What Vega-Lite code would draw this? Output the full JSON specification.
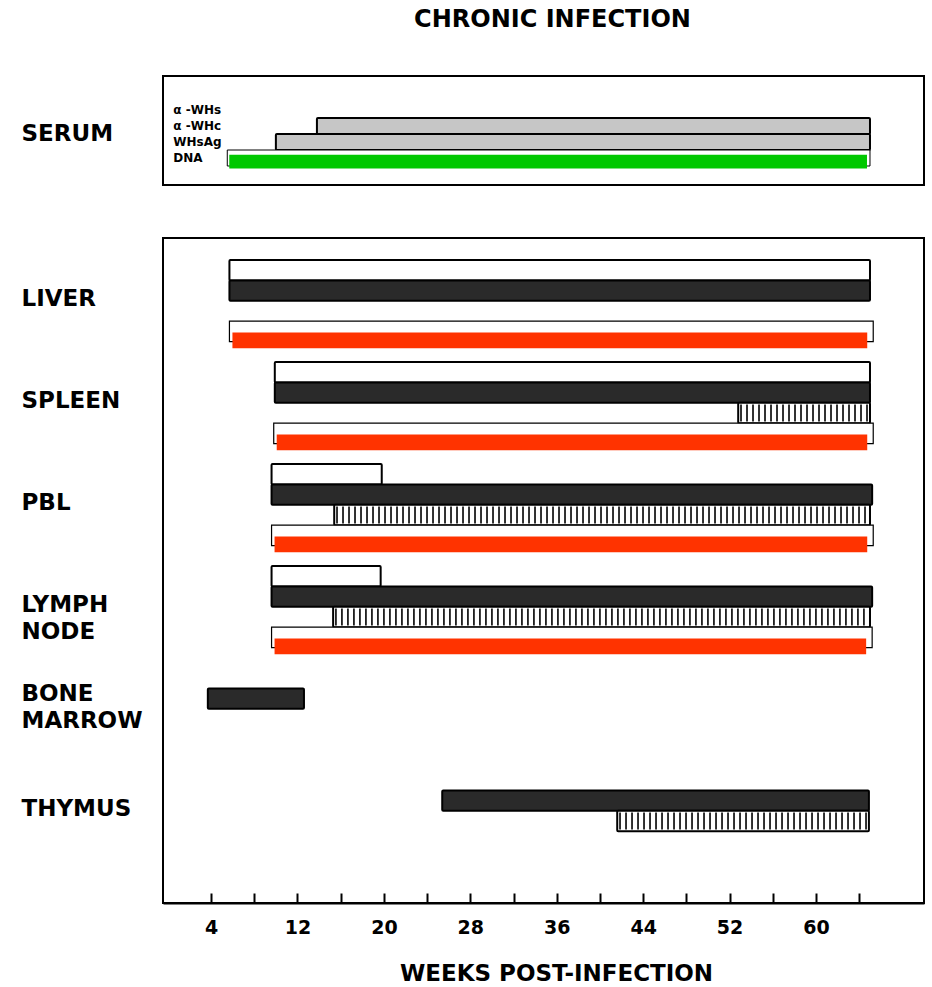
{
  "$schema": "https://vega.github.io/schema/vega-lite/v6.json",
  "background": "white",
  "padding": {"left": 20, "top": 8, "right": 5, "bottom": 5},
  "title": {"text": "CHRONIC INFECTION", "font": "DejaVu Sans", "fontSize": 24, "fontWeight": "bold", "color": "black", "anchor": "middle", "offset": 43, "dx": 80},
  "config": {"view": {"stroke": "black", "strokeWidth": 2}, "font": "DejaVu Sans"},
  "datasets": {
    "serum": [
      {"group": "SERUM", "lane": "α-WHc", "kind": "stipple", "start": 13.8, "end": 65},
      {"group": "SERUM", "lane": "WHsAg", "kind": "stipple", "start": 10.0, "end": 65},
      {"group": "SERUM", "lane": "DNA", "kind": "green", "start": 5.5, "end": 65}
    ],
    "serumLanes": [
      {"group": "SERUM", "lane": "α-WHs", "label": "α -WHs"},
      {"group": "SERUM", "lane": "α-WHc", "label": "α -WHc"},
      {"group": "SERUM", "lane": "WHsAg", "label": "WHsAg"},
      {"group": "SERUM", "lane": "DNA", "label": "DNA"}
    ],
    "tissue": [
      {"tissue": "LIVER", "kind": "white", "start": 5.7, "end": 65},
      {"tissue": "LIVER", "kind": "dark", "start": 5.7, "end": 65},
      {"tissue": "LIVER", "kind": "red", "start": 5.7, "end": 65.3},
      {"tissue": "SPLEEN", "kind": "white", "start": 9.9, "end": 65},
      {"tissue": "SPLEEN", "kind": "dark", "start": 9.9, "end": 65},
      {"tissue": "SPLEEN", "kind": "hatch", "start": 52.8, "end": 65},
      {"tissue": "SPLEEN", "kind": "red", "start": 9.8, "end": 65.3},
      {"tissue": "PBL", "kind": "white", "start": 9.6, "end": 19.8},
      {"tissue": "PBL", "kind": "dark", "start": 9.6, "end": 65.2},
      {"tissue": "PBL", "kind": "hatch", "start": 15.4, "end": 65},
      {"tissue": "PBL", "kind": "red", "start": 9.6, "end": 65.3},
      {"tissue": "LYMPH NODE", "kind": "white", "start": 9.6, "end": 19.7},
      {"tissue": "LYMPH NODE", "kind": "dark", "start": 9.6, "end": 65.2},
      {"tissue": "LYMPH NODE", "kind": "hatch", "start": 15.3, "end": 65},
      {"tissue": "LYMPH NODE", "kind": "red", "start": 9.6, "end": 65.2},
      {"tissue": "BONE MARROW", "kind": "dark", "start": 3.7, "end": 12.6},
      {"tissue": "THYMUS", "kind": "dark", "start": 25.4, "end": 64.9},
      {"tissue": "THYMUS", "kind": "hatch", "start": 41.6, "end": 64.9}
    ]
  },
  "spacing": 51,
  "resolve": {"scale": {"y": "independent", "yOffset": "independent", "fill": "independent"}},
  "vconcat": [
    {
      "width": 761,
      "height": 109,
      "layer": [
        {
          "data": {"name": "serum"},
          "transform": [{"filter": "datum.kind === 'stipple'"}],
          "mark": {"type": "bar", "fill": "#c6c6c6", "stroke": "black", "strokeWidth": 2, "cornerRadius": 1},
          "encoding": {
            "x": {"field": "start", "type": "quantitative", "scale": {"domain": [-0.45, 70], "nice": false, "zero": false}, "axis": null},
            "x2": {"field": "end"},
            "y": {"field": "group", "type": "nominal", "scale": {"domain": ["SERUM"], "paddingInner": 0, "paddingOuter": 0.352, "align": 0.578},
                  "axis": {"title": null, "labelAlign": "left", "labelPadding": 142, "ticks": false, "domain": false, "labelFont": "DejaVu Sans", "labelFontSize": 23, "labelFontWeight": "bold", "labelColor": "black"}},
            "yOffset": {"field": "lane", "type": "nominal", "scale": {"domain": ["α-WHs", "α-WHc", "WHsAg", "DNA"], "paddingInner": 0, "paddingOuter": 0}}
          }
        },
        {
          "data": {"name": "serum"},
          "transform": [{"filter": "datum.kind === 'green'"}],
          "mark": {"type": "bar", "fill": "white", "stroke": "black", "strokeWidth": 1},
          "encoding": {
            "x": {"field": "start", "type": "quantitative"},
            "x2": {"field": "end"},
            "y": {"field": "group", "type": "nominal"},
            "yOffset": {"field": "lane", "type": "nominal"}
          }
        },
        {
          "data": {"name": "serum"},
          "transform": [{"filter": "datum.kind === 'green'"}],
          "mark": {"type": "bar", "fill": "#00c800", "height": {"band": 0.85}, "xOffset": 2, "x2Offset": -3},
          "encoding": {
            "x": {"field": "start", "type": "quantitative"},
            "x2": {"field": "end"},
            "y": {"field": "group", "type": "nominal"},
            "yOffset": {"field": "lane", "type": "nominal"}
          }
        },
        {
          "data": {"name": "serumLanes"},
          "mark": {"type": "text", "align": "left", "baseline": "middle", "font": "DejaVu Sans", "fontSize": 12, "fontWeight": "bold", "fill": "black"},
          "encoding": {
            "x": {"datum": 0.5},
            "y": {"field": "group", "type": "nominal"},
            "yOffset": {"field": "lane", "type": "nominal"},
            "text": {"field": "label"}
          }
        }
      ]
    },
    {
      "width": 761,
      "height": 665,
      "data": {"name": "tissue"},
      "encoding": {
        "x": {"field": "start", "type": "quantitative", "scale": {"domain": [-0.45, 70], "nice": false, "zero": false},
              "axis": {"values": [4, 8, 12, 16, 20, 24, 28, 32, 36, 40, 44, 48, 52, 56, 60, 64],
                       "labelExpr": "(datum.value - 4) % 8 === 0 ? datum.label : ''",
                       "grid": false, "tickSize": -10, "tickWidth": 2, "tickColor": "black",
                       "domainColor": "black", "domainWidth": 2,
                       "labelFont": "DejaVu Sans", "labelFontSize": 19, "labelFontWeight": "bold", "labelColor": "black", "labelPadding": 25, "labelFlush": false,
                       "title": "WEEKS POST-INFECTION", "titleFont": "DejaVu Sans", "titleFontSize": 23, "titleFontWeight": "bold", "titleColor": "black", "titlePadding": 25, "titleX": 393}},
        "x2": {"field": "end"},
        "y": {"field": "tissue", "type": "nominal",
              "scale": {"domain": ["LIVER", "SPLEEN", "PBL", "LYMPH NODE", "BONE MARROW", "THYMUS"], "paddingInner": 0, "paddingOuter": 0.26, "align": 0.415},
              "axis": {"title": null, "labelAlign": "left", "labelPadding": 142, "ticks": false, "domain": false,
                       "labelExpr": "split(datum.label, ' ')", "labelLineHeight": 27,
                       "labelOffset": {"condition": {"test": "datum.value === 'BONE MARROW'", "value": -25}, "value": -12},
                       "labelFont": "DejaVu Sans", "labelFontSize": 23, "labelFontWeight": "bold", "labelColor": "black"}},
        "yOffset": {"field": "kind", "type": "nominal", "scale": {"domain": ["white", "dark", "hatch", "red", "gap"], "paddingInner": 0, "paddingOuter": 0}}
      },
      "layer": [
        {
          "transform": [{"filter": "datum.kind !== 'red'"}],
          "mark": {"type": "bar", "stroke": "black", "strokeWidth": 2, "cornerRadius": 1},
          "encoding": {"fill": {"field": "kind", "type": "nominal", "scale": {"domain": ["white", "dark", "hatch"], "range": ["white", "#2a2a2a", "white"]}, "legend": null}}
        },
        {
          "transform": [{"filter": "datum.kind === 'hatch'"}],
          "mark": {"type": "rule", "color": "black", "strokeWidth": 17, "strokeDash": [1.6, 4.4], "strokeCap": "butt", "xOffset": 2, "x2Offset": -2}
        },
        {
          "transform": [{"filter": "datum.kind === 'red'"}],
          "mark": {"type": "bar", "fill": "white", "stroke": "black", "strokeWidth": 1.2}
        },
        {
          "transform": [{"filter": "datum.kind === 'red'"}],
          "mark": {"type": "bar", "fill": "#ff3300", "height": {"band": 0.78}, "xOffset": 3, "x2Offset": -6}
        }
      ]
    }
  ]
}
